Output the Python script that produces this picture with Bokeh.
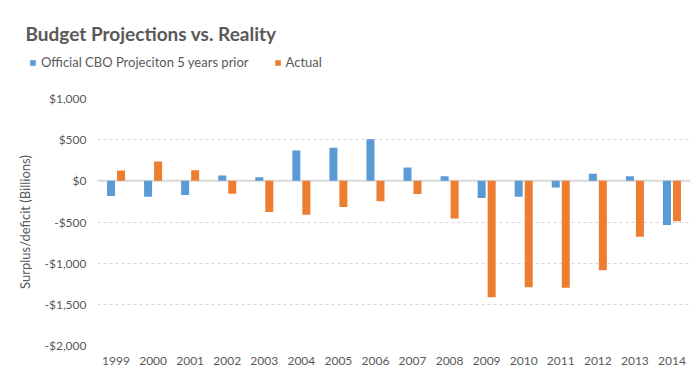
from bokeh.plotting import figure
from bokeh.layouts import column
from bokeh.models import (ColumnDataSource, FactorRange, Range1d, FixedTicker, Span,
                          Label, Legend, LegendItem)
from bokeh.transform import dodge
from bokeh.embed import file_html
from bokeh.resources import INLINE

years = [str(y) for y in range(1999, 2015)]
cbo_projection = [-185, -194, -173, 65, 44, 367, 403, 504, 161, 57, -210, -194, -81, 85, 57, -537]
actual = [125, 236, 128, -158, -378, -413, -318, -248, -161, -459, -1413, -1294, -1300, -1087, -680, -492]
y_ticks = [-2000, -1500, -1000, -500, 0, 500, 1000]
y_tick_labels = ["-$2,000", "-$1,500", "-$1,000", "-$500", "$0", "$500", "$1,000"]
series_names = ["Official CBO Projeciton 5 years prior", "Actual"]
title_text = "Budget Projections vs. Reality"
y_axis_title = "Surplus/deficit (Billions)"

BLUE = "#5B9BD5"
ORANGE = "#ED7D31"
TXT = "#595959"
FONT = "Lato"

W = 696
HEAD_H = 90
MAIN_H = 285

# ---------- header: title + legend ----------
head = figure(width=W, height=HEAD_H, output_backend="svg", toolbar_location=None,
              x_range=Range1d(0, W), y_range=Range1d(HEAD_H, 0),
              x_axis_type=None, y_axis_type=None,
              min_border=0, min_border_left=0, min_border_right=0,
              min_border_top=0, min_border_bottom=0)
head.frame_align = False
head.outline_line_color = None
head.xgrid.visible = False
head.ygrid.visible = False

head.add_layout(Label(x=25, y=32.5, text=title_text, text_font=FONT,
                      text_font_style="bold", text_font_size="19px", text_color=TXT,
                      text_baseline="alphabetic"))

# zero-size swatch renderers that only serve the legend
h1 = head.vbar(x=[0], top=[0], width=0, fill_color=BLUE, line_color=None)
h2 = head.vbar(x=[0], top=[0], width=0, fill_color=ORANGE, line_color=None)
legend = Legend(items=[LegendItem(label=series_names[0], renderers=[h1]),
                       LegendItem(label=series_names[1], renderers=[h2])],
                orientation="horizontal", location=(29, 20),
                glyph_width=7, glyph_height=7, label_standoff=5, spacing=25,
                padding=0, margin=0, border_line_color=None, background_fill_alpha=0,
                label_text_font=FONT, label_text_font_size="13px", label_text_color=TXT)
head.add_layout(legend, "center")

# ---------- main chart ----------
source = ColumnDataSource(dict(year=years, cbo=cbo_projection, actual=actual))

p = figure(width=W, height=MAIN_H, output_backend="svg", toolbar_location=None,
           x_range=FactorRange(*years), y_range=Range1d(-2000, 1000),
           min_border_left=97, min_border_right=6, min_border_top=8, min_border_bottom=30)
p.frame_align = False
p.outline_line_color = None

zero = Span(location=0, dimension="width", line_color="#d9d9d9", line_width=2, level="underlay")
p.add_layout(zero)

p.vbar(x=dodge("year", -0.135, range=p.x_range), top="cbo", width=0.216,
       source=source, fill_color=BLUE, line_color=None)
p.vbar(x=dodge("year", 0.135, range=p.x_range), top="actual", width=0.216,
       source=source, fill_color=ORANGE, line_color=None)

p.yaxis.ticker = FixedTicker(ticks=y_ticks)
p.yaxis.major_label_overrides = {t: l for t, l in zip(y_ticks, y_tick_labels)}
for ax in (p.xaxis[0], p.yaxis[0]):
    ax.axis_line_color = None
    ax.major_tick_line_color = None
    ax.minor_tick_line_color = None
    ax.major_tick_out = 0
    ax.major_tick_in = 0
    ax.minor_tick_out = 0
    ax.minor_tick_in = 0
    ax.major_label_text_color = TXT
    ax.major_label_text_font = FONT
    ax.major_label_text_font_size = "12px"
p.yaxis.major_label_standoff = 11
p.xaxis.major_label_standoff = 11
p.yaxis.axis_label = y_axis_title
p.yaxis.axis_label_text_font = FONT
p.yaxis.axis_label_text_font_style = "normal"
p.yaxis.axis_label_text_font_size = "13px"
p.yaxis.axis_label_text_color = TXT
p.yaxis.axis_label_standoff = 9

p.xgrid.grid_line_color = None
p.ygrid.grid_line_color = "#d9d9d9"
p.ygrid.grid_line_dash = "3 3"
p.ygrid.grid_line_width = 1

layout = column(head, p, spacing=0)
open("out.html", "w").write(file_html(layout, INLINE))
